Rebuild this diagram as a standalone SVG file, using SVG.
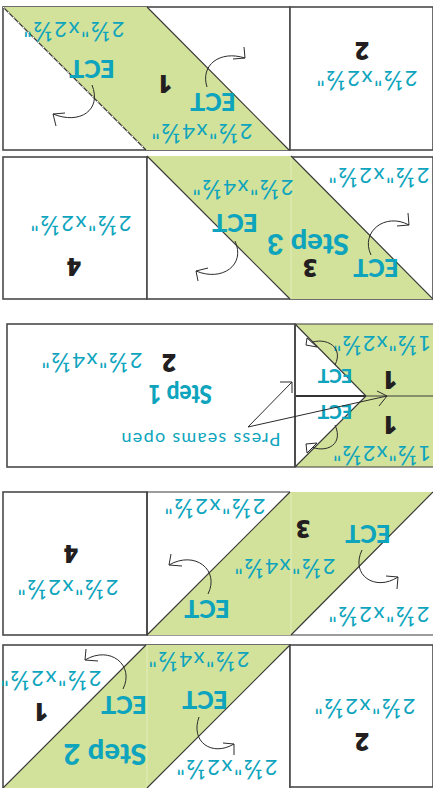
<svg xmlns="http://www.w3.org/2000/svg" width="433" height="788" viewBox="0 0 433 788">
<style>
text{font-family:"Lato","Open Sans","Liberation Sans",sans-serif;text-anchor:middle}
.s{font-size:22px;fill:#0ea4bd}
.f{font-size:27px}
.e{font-size:25px;font-weight:900;fill:#0ea4bd}
.e2{font-size:19px;font-weight:900;fill:#0ea4bd}
.st{font-size:29px;font-weight:900;fill:#0ea4bd}
.st1{font-size:26px;font-weight:900;fill:#0ea4bd}
.n{font-family:"Open Sans","Liberation Sans",sans-serif;font-size:24px;font-weight:800;fill:#231f20}
.p{font-size:18px;fill:#0ea4bd}
.g{fill:#d3e29a}
.seam{stroke:#e2ecbc;stroke-width:1;fill:none}
.b{fill:#fff;stroke:#4a4a4a;stroke-width:1.6}
.d{stroke:#3a3a3a;stroke-width:1.2;fill:none}
.a{stroke:#2b2b2b;stroke-width:1;fill:none}
.h{stroke:#2b2b2b;stroke-width:1;fill:#fff}
</style>
<g id="panel-top">
<rect class="b" x="3" y="7" width="287" height="143"/><rect class="b" x="290" y="7" width="143" height="143"/>
<polygon class="g" points="3,7 147,7 289,150 146,150"/>
<path class="d" d="M3 7L146 150M147 7L289 150"/><path d="M3 7L146 150" stroke="#fff" stroke-width="1" stroke-dasharray="2 5" fill="none"/>
<text class="s" textLength="101" transform="translate(74,22) rotate(180)">2<tspan class="f">½</tspan>"x2<tspan class="f">½</tspan>"</text>
<text class="e" transform="translate(92,60) rotate(180)">ECT</text>
<text class="e" transform="translate(213,93) rotate(180)">ECT</text>
<text class="n" transform="translate(165,75) rotate(180)">1</text>
<text class="s" textLength="101" transform="translate(202,124) rotate(180)">2<tspan class="f">½</tspan>"x4<tspan class="f">½</tspan>"</text>
<text class="n" transform="translate(362,42) rotate(180)">2</text>
<text class="s" textLength="101" transform="translate(367,71) rotate(180)">2<tspan class="f">½</tspan>"x2<tspan class="f">½</tspan>"</text>
</g>
<g id="panel-step3">
<rect class="b" x="3" y="157" width="144" height="142"/><rect class="b" x="147" y="157" width="286" height="142"/>
<polygon class="g" points="147,156 291,156 433,299 290,299"/>
<path class="seam" d="M291 157V298"/><path class="d" d="M147 156L290 299M291 156L433 299"/>
<text class="n" transform="translate(74,258) rotate(180)">4</text>
<text class="s" textLength="101" transform="translate(81,216) rotate(180)">2<tspan class="f">½</tspan>"x2<tspan class="f">½</tspan>"</text>
<text class="s" textLength="101" transform="translate(243,180) rotate(180)">2<tspan class="f">½</tspan>"x4<tspan class="f">½</tspan>"</text>
<text class="s" textLength="101" transform="translate(379,168) rotate(180)">2<tspan class="f">½</tspan>"x2<tspan class="f">½</tspan>"</text>
<text class="e" transform="translate(235,214) rotate(180)">ECT</text>
<text class="e" transform="translate(376,259) rotate(180)">ECT</text>
<text class="st" textLength="82" transform="translate(308,234) rotate(180)">Step 3</text>
<text class="n" transform="translate(310,259) rotate(180)">3</text>
</g>
<g id="panel-step1">
<rect class="b" x="7" y="324" width="288" height="143"/>
<polygon class="g" points="295,324 433,324 433,467 295,467 366,396"/>
<path class="d" d="M295 324H433M295 467H433M295 324L366 396L295 467M366 396H433"/>
<path d="M295 396H366" stroke="#333" stroke-width="2"/>
<path d="M295 324V467" stroke="#4a4a4a" stroke-width="1.8"/>
<text class="n" transform="translate(169,354) rotate(180)">2</text>
<text class="s" textLength="101" transform="translate(92,353) rotate(180)">2<tspan class="f">½</tspan>"x4<tspan class="f">½</tspan>"</text>
<text class="st1" textLength="64" lengthAdjust="spacingAndGlyphs" transform="translate(180,385) rotate(180)">Step 1</text>
<text class="p" textLength="159" transform="translate(201,433) rotate(180)">Press seams open</text>
<text class="s" textLength="98" transform="translate(382,336) rotate(180)">1<tspan class="f">½</tspan>"x2<tspan class="f">½</tspan>"</text>
<text class="s" textLength="98" transform="translate(382,446) rotate(180)">1<tspan class="f">½</tspan>"x2<tspan class="f">½</tspan>"</text>
<text class="n" transform="translate(390,371) rotate(180)">1</text>
<text class="n" transform="translate(390,416) rotate(180)">1</text>
<text class="e2" transform="translate(335,369) rotate(180)">ECT</text>
<text class="e2" transform="translate(335,405) rotate(180)">ECT</text>
</g>
<g id="panel-d">
<rect class="b" x="3" y="492" width="144" height="143"/>
<path class="d" d="M147 492H290M290 635H433M147 492V635H290"/>
<polygon class="g" points="290,492 433,492 291,635 147,635"/>
<path class="seam" d="M291 493V634"/><path class="d" d="M290 492L147 635M433 492L291 635"/>
<text class="n" transform="translate(71,545) rotate(180)">4</text>
<text class="s" textLength="101" transform="translate(68,580) rotate(180)">2<tspan class="f">½</tspan>"x2<tspan class="f">½</tspan>"</text>
<text class="s" textLength="101" transform="translate(215,499) rotate(180)">2<tspan class="f">½</tspan>"x2<tspan class="f">½</tspan>"</text>
<text class="s" textLength="101" transform="translate(285,559) rotate(180)">2<tspan class="f">½</tspan>"x4<tspan class="f">½</tspan>"</text>
<text class="s" textLength="101" transform="translate(379,607) rotate(180)">2<tspan class="f">½</tspan>"x2<tspan class="f">½</tspan>"</text>
<text class="n" transform="translate(303,520) rotate(180)">3</text>
<text class="e" transform="translate(368,525) rotate(180)">ECT</text>
<text class="e" transform="translate(207,600) rotate(180)">ECT</text>
</g>
<g id="panel-step2">
<rect class="b" x="3" y="645" width="287" height="145"/><rect class="b" x="290" y="645" width="143" height="142"/>
<polygon class="g" points="146,645 290,645 147,788 3,788"/>
<path class="seam" d="M147 646V787"/><path class="d" d="M146 645L3 788M290 645L147 788"/>
<text class="n" transform="translate(41,703) rotate(180)">1</text>
<text class="s" textLength="101" transform="translate(51,671) rotate(180)">2<tspan class="f">½</tspan>"x2<tspan class="f">½</tspan>"</text>
<text class="s" textLength="101" transform="translate(199,652) rotate(180)">2<tspan class="f">½</tspan>"x4<tspan class="f">½</tspan>"</text>
<text class="s" textLength="101" transform="translate(227,760) rotate(180)">2<tspan class="f">½</tspan>"x2<tspan class="f">½</tspan>"</text>
<text class="e" transform="translate(124,696) rotate(180)">ECT</text>
<text class="e" transform="translate(205,691) rotate(180)">ECT</text>
<text class="st" textLength="83" transform="translate(105,744) rotate(180)">Step 2</text>
<text class="n" transform="translate(362,733) rotate(180)">2</text>
<text class="s" textLength="101" transform="translate(365,699) rotate(180)">2<tspan class="f">½</tspan>"x2<tspan class="f">½</tspan>"</text>
</g>
<g id="connectors">
<path class="a" d="M207 87C200 65 220 50 245 58M244 47L245 58L233 59"/>
<path class="a" d="M92 85C102 110 80 125 53 114M65 113L53 114L56 126"/>
<path class="a" d="M371 255C360 232 385 212 409 225M408 213L409 225L397 226"/>
<path class="a" d="M235 241C246 265 222 282 196 271M208 268L196 271L198 281"/>
<path class="a" d="M248 427L292 382M280 382H292V393"/>
<path class="a" d="M248 427L387 396M377 391L387 396L379 406"/>
<path class="a" d="M335 365C345 345 322 335 306 345"/><path class="h" d="M307 338L306 345L317 347Z"/>
<path class="a" d="M335 425C345 447 322 455 306 444"/><path class="h" d="M307 453L306 444L317 443Z"/>
<path class="a" d="M208 594C220 570 195 550 169 565M171 554L169 565L182 566"/>
<path class="a" d="M362 550C350 575 375 592 398 577M397 589L398 577L386 576"/>
<path class="a" d="M123 689C135 665 110 645 85 660M86 649L85 660L98 661"/>
<path class="a" d="M199 717C190 742 212 757 234 744M234 755L234 744L223 743"/>
</g>
</svg>
